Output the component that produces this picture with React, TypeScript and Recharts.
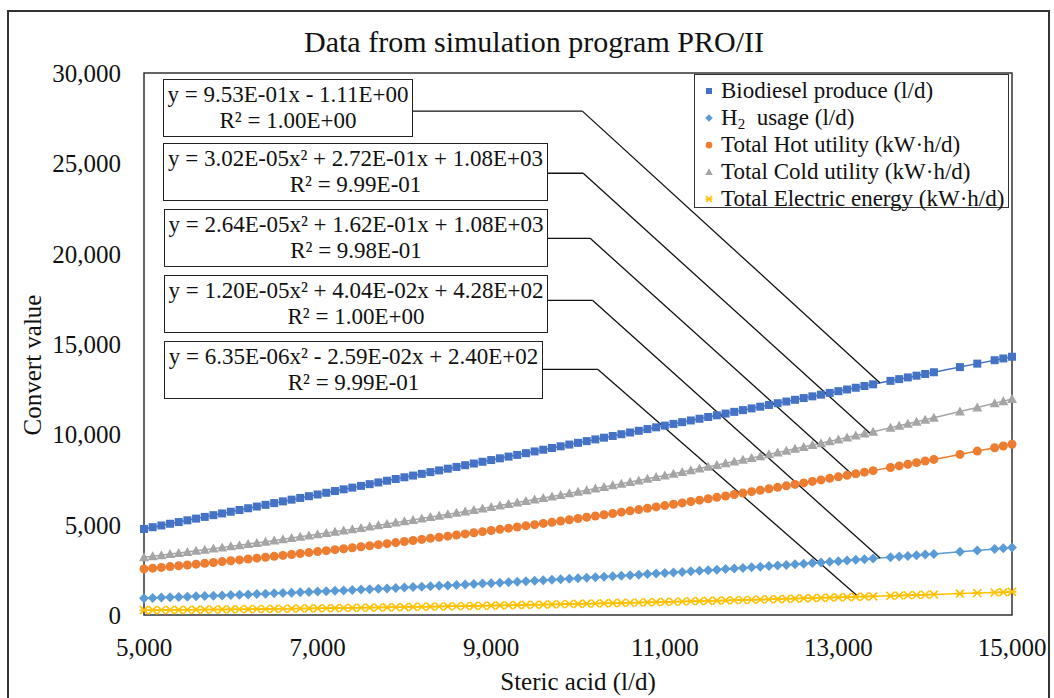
import React from "react";
import { Legend, Line, LineChart, ReferenceArea, ReferenceLine, XAxis, YAxis } from "recharts";

const FONT = '"Liberation Serif", "Times New Roman", serif';

// steric acid feed (l/d)
const stericAcid = [
  5000, 5100, 5200, 5300, 5400, 5500, 5600, 5700, 5800, 5900,
  6000, 6100, 6200, 6300, 6400, 6500, 6600, 6700, 6800, 6900,
  7000, 7100, 7200, 7300, 7400, 7500, 7600, 7700, 7800, 7900,
  8000, 8100, 8200, 8300, 8400, 8500, 8600, 8700, 8800, 8900,
  9000, 9100, 9200, 9300, 9400, 9500, 9600, 9700, 9800, 9900,
  10000, 10100, 10200, 10300, 10400, 10500, 10600, 10700, 10800, 10900,
  11000, 11100, 11200, 11300, 11400, 11500, 11600, 11700, 11800, 11900,
  12000, 12100, 12200, 12300, 12400, 12500, 12600, 12700, 12800, 12900,
  13000, 13100, 13200, 13300, 13400,
  13600, 13700, 13800, 13900, 14000, 14100,
  14400, 14600, 14800, 14900, 15000,
];

const biodiesel = [
  4764, 4859, 4955, 5050, 5145, 5240, 5336, 5431, 5526, 5622,
  5717, 5812, 5908, 6003, 6098, 6193, 6289, 6384, 6479, 6575,
  6670, 6765, 6861, 6956, 7051, 7146, 7242, 7337, 7432, 7528,
  7623, 7718, 7814, 7909, 8004, 8100, 8195, 8290, 8385, 8481,
  8576, 8671, 8767, 8862, 8957, 9053, 9148, 9243, 9338, 9434,
  9529, 9624, 9720, 9815, 9910, 10006, 10101, 10196, 10291, 10387,
  10482, 10577, 10673, 10768, 10863, 10959, 11054, 11149, 11244, 11340,
  11435, 11530, 11626, 11721, 11816, 11912, 12007, 12102, 12197, 12293,
  12388, 12483, 12579, 12674, 12769,
  12960, 13055, 13150, 13246, 13341, 13436,
  13722, 13913, 14103, 14199, 14294,
];

const h2Usage = [
  930, 946, 963, 979, 996, 1013, 1031, 1048, 1066, 1084,
  1102, 1121, 1140, 1159, 1178, 1198, 1217, 1237, 1258, 1278,
  1299, 1320, 1341, 1362, 1384, 1406, 1428, 1451, 1473, 1496,
  1519, 1543, 1566, 1590, 1614, 1638, 1663, 1688, 1713, 1738,
  1764, 1789, 1815, 1842, 1868, 1895, 1922, 1949, 1976, 2004,
  2032, 2060, 2089, 2117, 2146, 2175, 2205, 2234, 2264, 2294,
  2324, 2355, 2386, 2417, 2448, 2480, 2511, 2543, 2576, 2608,
  2641, 2674, 2707, 2740, 2774, 2808, 2842, 2877, 2911, 2946,
  2981, 3017, 3052, 3088, 3124,
  3197, 3234, 3271, 3308, 3346, 3383,
  3498, 3576, 3654, 3694, 3734,
];

const hotUtility = [
  2550, 2593, 2636, 2680, 2725, 2770, 2815, 2861, 2908, 2955,
  3002, 3051, 3099, 3148, 3198, 3248, 3299, 3351, 3402, 3455,
  3508, 3561, 3615, 3670, 3725, 3780, 3836, 3893, 3950, 4007,
  4066, 4124, 4184, 4243, 4304, 4364, 4426, 4488, 4550, 4613,
  4676, 4740, 4805, 4870, 4936, 5002, 5068, 5135, 5203, 5271,
  5340, 5409, 5479, 5549, 5620, 5692, 5764, 5836, 5909, 5982,
  6056, 6131, 6206, 6282, 6358, 6434, 6512, 6589, 6668, 6746,
  6826, 6905, 6986, 7067, 7148, 7230, 7313, 7396, 7479, 7563,
  7648, 7733, 7818, 7905, 7991,
  8166, 8254, 8343, 8433, 8522, 8613,
  8887, 9073, 9260, 9355, 9450,
];

const coldUtility = [
  3195, 3253, 3311, 3370, 3429, 3490, 3550, 3612, 3674, 3736,
  3799, 3863, 3927, 3992, 4058, 4124, 4191, 4258, 4326, 4395,
  4464, 4534, 4604, 4675, 4747, 4819, 4892, 4965, 5039, 5114,
  5189, 5265, 5341, 5418, 5496, 5574, 5653, 5732, 5812, 5893,
  5974, 6056, 6139, 6222, 6305, 6390, 6474, 6560, 6646, 6733,
  6820, 6908, 6996, 7086, 7175, 7266, 7357, 7448, 7540, 7633,
  7726, 7820, 7915, 8010, 8106, 8202, 8299, 8397, 8495, 8593,
  8693, 8793, 8893, 8995, 9096, 9199, 9302, 9405, 9510, 9614,
  9720, 9826, 9932, 10040, 10148,
  10365, 10475, 10585, 10696, 10807, 10919,
  11259, 11489, 11721, 11838, 11955,
];

const electricEnergy = [
  269, 273, 277, 281, 285, 290, 294, 299, 303, 308,
  313, 318, 324, 329, 334, 340, 346, 352, 358, 364,
  370, 376, 383, 389, 396, 403, 410, 417, 424, 432,
  439, 447, 455, 463, 471, 479, 487, 495, 504, 513,
  521, 530, 539, 548, 558, 567, 577, 586, 596, 606,
  616, 626, 637, 647, 657, 668, 679, 690, 701, 712,
  724, 735, 746, 758, 770, 782, 794, 806, 819, 831,
  844, 856, 869, 882, 895, 908, 922, 935, 949, 963,
  977, 990, 1005, 1019, 1033,
  1062, 1077, 1092, 1107, 1122, 1137,
  1184, 1216, 1248, 1264, 1280,
];

const xTicks = [5000, 7000, 9000, 11000, 13000, 15000];
const yTicks = [0, 5000, 10000, 15000, 20000, 25000, 30000];

const equations = [
  ["y = 9.53E-01x - 1.11E+00", "R² = 1.00E+00"],
  ["y = 3.02E-05x² + 2.72E-01x + 1.08E+03", "R² = 9.99E-01"],
  ["y = 2.64E-05x² + 1.62E-01x + 1.08E+03", "R² = 9.98E-01"],
  ["y = 1.20E-05x² + 4.04E-02x + 4.28E+02", "R² = 1.00E+00"],
  ["y = 6.35E-06x² - 2.59E-02x + 2.40E+02", "R² = 9.99E-01"],
];

// leader lines: box edge -> knee -> point on the trend line (data coords)
const leaders = [
  [[8000, 27890], [10050, 27890], [13480, 12846]],
  [[9600, 24450], [10060, 24450], [13370, 10030]],
  [[9600, 20850], [10140, 20850], [13160, 7780]],
  [[9600, 17410], [10170, 17410], [13480, 3150]],
  [[9550, 13590], [10230, 13590], [13230, 1010]],
];

const boxes = [
  { left: 163, top: 79, width: 250 },
  { left: 163, top: 143, width: 385 },
  { left: 164, top: 209, width: 384 },
  { left: 164, top: 275, width: 384 },
  { left: 164, top: 341, width: 379 },
];

const series = [
  { key: "bio", name: "Biodiesel produce (l/d)", color: "#4472C4", shape: "square" },
  { key: "h2", name: "H2 usage (l/d)", color: "#5B9BD5", shape: "diamond" },
  { key: "hot", name: "Total Hot utility (kW·h/d)", color: "#ED7D31", shape: "circle" },
  { key: "cold", name: "Total Cold utility (kW·h/d)", color: "#A5A5A5", shape: "triangle" },
  { key: "elec", name: "Total Electric energy (kW·h/d)", color: "#FFC000", shape: "star" },
];

const chartData = stericAcid.map((x, i) => ({
  x,
  bio: biodiesel[i],
  h2: h2Usage[i],
  hot: hotUtility[i],
  cold: coldUtility[i],
  elec: electricEnergy[i],
}));

function marker(shape: string, cx: number, cy: number, color: string, k: string | number, s = 1) {
  switch (shape) {
    case "square":
      return <rect key={k} x={cx - 4 * s} y={cy - 4 * s} width={8 * s} height={8 * s} fill={color} />;
    case "diamond":
      return (
        <polygon
          key={k}
          points={`${cx},${cy - 5 * s} ${cx + 5 * s},${cy} ${cx},${cy + 5 * s} ${cx - 5 * s},${cy}`}
          fill={color}
        />
      );
    case "circle":
      return <circle key={k} cx={cx} cy={cy} r={4.5 * s} fill={color} />;
    case "triangle":
      return (
        <polygon
          key={k}
          points={`${cx},${cy - 5 * s} ${cx + 5 * s},${cy + 4 * s} ${cx - 5 * s},${cy + 4 * s}`}
          fill={color}
        />
      );
    default:
      return (
        <g key={k} stroke={color} strokeWidth={1.6}>
          <line x1={cx - 4 * s} y1={cy - 4 * s} x2={cx + 4 * s} y2={cy + 4 * s} />
          <line x1={cx - 4 * s} y1={cy + 4 * s} x2={cx + 4 * s} y2={cy - 4 * s} />
          <line x1={cx - 4.5 * s} y1={cy} x2={cx + 4.5 * s} y2={cy} />
        </g>
      );
  }
}

function LegendBox() {
  return (
    <div
      style={{
        width: 315,
        height: 134,
        boxSizing: "border-box",
        border: "1.5px solid #333",
        background: "#fff",
        fontFamily: FONT,
        fontSize: 23,
        color: "#111",
        paddingTop: 2,
        paddingLeft: 9,
        whiteSpace: "nowrap",
      }}
    >
      {series.map((s) => (
        <div key={s.key} style={{ height: 27, lineHeight: "27px", display: "flex", alignItems: "center" }}>
          <svg width={10} height={10} style={{ marginRight: 7, flex: "none" }}>
            {marker(s.shape, 5, 5, s.color, s.key, 0.75)}
          </svg>
          {s.key === "h2" ? (
            <span style={{ lineHeight: "27px" }}>
              H<sub style={{ fontSize: 15, lineHeight: 0, verticalAlign: -4 }}>2</sub>&nbsp; usage (l/d)
            </span>
          ) : (
            <span>{s.name}</span>
          )}
        </div>
      ))}
    </div>
  );
}

const fmt = (v: number) => v.toLocaleString("en-US");

export default function App() {
  return (
    <div style={{ position: "relative", width: 1054, height: 698, overflow: "hidden", background: "#fff" }}>
      <style>{`body{margin:0}`}</style>
      <div
        style={{
          position: "absolute",
          left: 7,
          top: 10,
          width: 1043,
          height: 720,
          border: "2px solid #333",
          boxSizing: "border-box",
        }}
      />
      <div
        style={{
          position: "absolute",
          left: 0,
          width: 1068,
          top: 25,
          textAlign: "center",
          fontFamily: FONT,
          fontSize: 30,
          color: "#111",
        }}
      >
        Data from simulation program PRO/II
      </div>
      <LineChart
        width={1054}
        height={698}
        data={chartData}
        margin={{ top: 73, right: 42, bottom: 23, left: 0 }}
        style={{ position: "absolute", left: 0, top: 0 }}
      >
        <XAxis
          type="number"
          dataKey="x"
          domain={[5000, 15000]}
          ticks={xTicks}
          tickFormatter={fmt}
          axisLine={false}
          tickLine={false}
          tickMargin={17}
          height={60}
          tick={{ fontSize: 25, fill: "#111", fontFamily: FONT }}
          label={() => (
            <text x={578} y={690} textAnchor="middle" fontSize={25} fontFamily={FONT} fill="#111">
              Steric acid (l/d)
            </text>
          )}
        />
        <YAxis
          type="number"
          domain={[0, 30000]}
          ticks={yTicks}
          tickFormatter={fmt}
          axisLine={false}
          tickLine={false}
          tickMargin={17}
          width={144}
          tick={{ fontSize: 25, fill: "#111", fontFamily: FONT }}
          label={() => (
            <text
              x={0}
              y={0}
              transform="translate(41 365) rotate(-90)"
              textAnchor="middle"
              fontSize={25}
              fontFamily={FONT}
              fill="#111"
            >
              Convert value
            </text>
          )}
        />
        <ReferenceArea x1={5000} x2={15000} y1={0} y2={30000} fill="none" stroke="#333" strokeWidth={1.5} />
        {series.map((s) => (
          <Line
            key={s.key}
            dataKey={s.key}
            name={s.name}
            stroke={s.color}
            strokeWidth={1.5}
            isAnimationActive={false}
            activeDot={false}
            dot={(p: any) => marker(s.shape, p.cx, p.cy, s.color, `${s.key}-${p.index}`)}
          />
        ))}
        {leaders.map((pts, i) => (
          <React.Fragment key={i}>
            <ReferenceLine
              segment={[{ x: pts[0][0], y: pts[0][1] }, { x: pts[1][0], y: pts[1][1] }]}
              stroke="#111"
              strokeWidth={1.3}
            />
            <ReferenceLine
              segment={[{ x: pts[1][0], y: pts[1][1] }, { x: pts[2][0], y: pts[2][1] }]}
              stroke="#111"
              strokeWidth={1.3}
            />
          </React.Fragment>
        ))}
        <Legend
          layout="vertical"
          align="center"
          verticalAlign="middle"
          wrapperStyle={{ left: 694, top: 74, width: 315, height: 134 }}
          content={() => <LegendBox />}
        />
      </LineChart>
      {equations.map((lines, i) => (
        <div
          key={i}
          style={{
            position: "absolute",
            left: boxes[i].left,
            top: boxes[i].top,
            width: boxes[i].width,
            height: 58,
            boxSizing: "border-box",
            border: "1.5px solid #222",
            background: "#fff",
            fontFamily: FONT,
            fontSize: 23,
            lineHeight: "26px",
            paddingTop: 2,
            textAlign: "center",
            color: "#111",
            whiteSpace: "nowrap",
          }}
        >
          <div>{lines[0]}</div>
          <div>{lines[1]}</div>
        </div>
      ))}
    </div>
  );
}
